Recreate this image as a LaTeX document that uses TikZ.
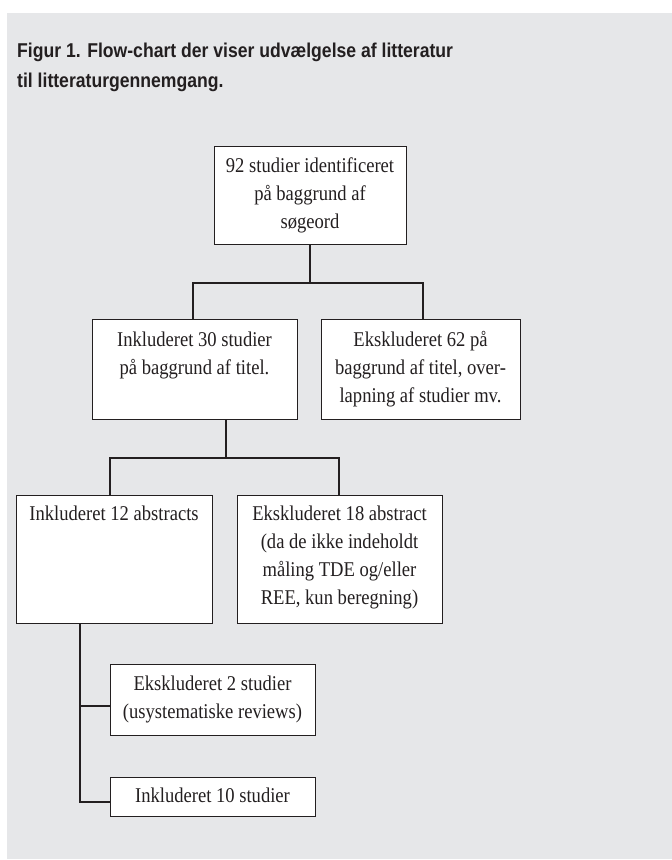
\documentclass[tikz,border=0pt]{standalone}
\usepackage{fontspec}
\setmainfont{Liberation Serif}
\newfontfamily\titlefont{Liberation Sans}[FakeStretch=0.88]
\newfontfamily\boxfont{Liberation Serif}[FakeStretch=0.885]
\definecolor{bggray}{RGB}{230,231,233}
\definecolor{ink}{RGB}{35,31,32}
\begin{document}
\begin{tikzpicture}[x=1pt,y=-1pt,
  box/.style={draw=ink, line width=0.9pt, fill=white, inner xsep=0pt, inner ysep=0pt,
    align=center, anchor=north, text=ink,
    font=\boxfont\fontsize{21}{28}\selectfont},
  conn/.style={draw=ink, line width=2pt, line join=miter},
  titletext/.style={anchor=north west, inner sep=0pt, align=left, text=ink,
    font=\titlefont\bfseries\fontsize{20}{29.5}\selectfont}]
\useasboundingbox (0,0) rectangle (672,860);
\fill[white] (0,0) rectangle (672,860);
\fill[bggray] (7,13) rectangle (672,859);

\node[titletext] (title) at (17,42.5) {\rule{0pt}{15pt}Figur 1. Flow-chart der viser udvælgelse af litteratur\\til litteraturgennemgang.};

% boxes
\node[box, minimum width=192pt] (b1) at (310,146)
  {\rule{0pt}{26pt}92 studier identificeret\\på baggrund af\\søgeord\rule[-16pt]{0pt}{16pt}};
\node[box, minimum width=205pt] (b2) at (194.5,319)
  {\rule{0pt}{27pt}Inkluderet 30 studier\\på baggrund af titel.\rule[-45pt]{0pt}{45pt}};
\node[box, minimum width=199pt] (b3) at (420.5,319)
  {\rule{0pt}{27pt}Ekskluderet 62 på\\baggrund af titel, over-\\lapning af studier mv.\rule[-17pt]{0pt}{17pt}};
\node[box, minimum width=196pt] (b4) at (114,495)
  {\rule{0pt}{25pt}Inkluderet 12 abstracts\rule[-103pt]{0pt}{103pt}};
\node[box, minimum width=205pt] (b5) at (339.5,495)
  {\rule{0pt}{25pt}Ekskluderet 18 abstract\\(da de ikke indeholdt\\måling TDE og/eller\\REE, kun beregning)\rule[-19pt]{0pt}{19pt}};
\node[box, minimum width=205pt] (b6) at (212.5,664)
  {\rule{0pt}{26pt}Ekskluderet 2 studier\\(usystematiske reviews)\rule[-17pt]{0pt}{17pt}};
\node[box, minimum width=205pt] (b7) at (212.5,777)
  {\rule{0pt}{25pt}Inkluderet 10 studier\rule[-14pt]{0pt}{14pt}};

% junction coordinates
\coordinate (j1) at (310,283);
\coordinate (j1l) at (193,283);
\coordinate (j1r) at (423,283);
\coordinate (j2) at (226,458);
\coordinate (j2l) at (110,458);
\coordinate (j2r) at (339,458);
\coordinate (t4) at (80,623);
\coordinate (j3a) at (80,706);
\coordinate (j3b) at (80,802);

% connectors
\draw[conn] (b1.south) -- (j1);
\draw[conn] (j1l |- b2.north) -- (j1l) -- (j1r) -- (j1r |- b3.north);
\draw[conn] (j2 |- b2.south) -- (j2);
\draw[conn] (j2l |- b4.north) -- (j2l) -- (j2r) -- (j2r |- b5.north);
\draw[conn] (t4) -- (j3b) -- (j3b -| b7.west);
\draw[conn] (j3a) -- (j3a -| b6.west);
\end{tikzpicture}
\end{document}
